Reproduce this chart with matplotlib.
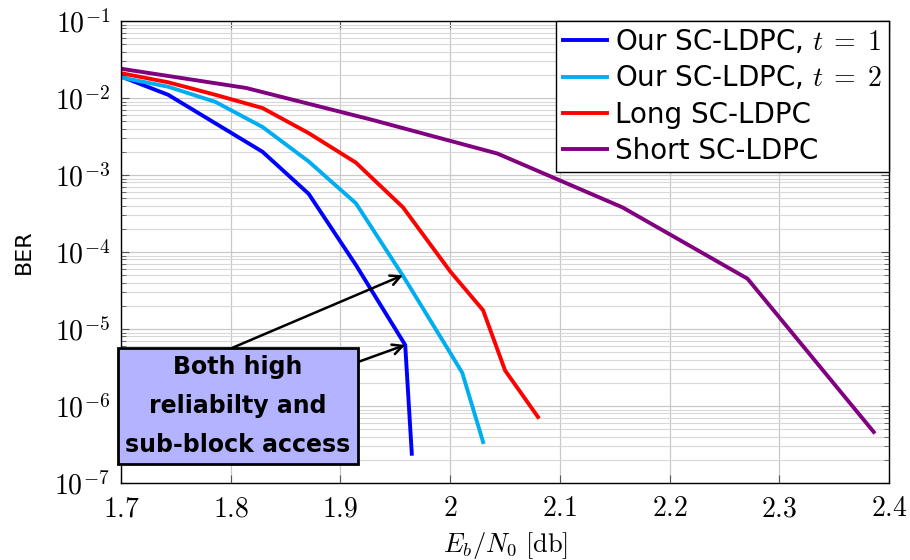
import math
import matplotlib
matplotlib.use("Agg")
import matplotlib.pyplot as plt
from matplotlib.ticker import FixedLocator, FuncFormatter, LogLocator, NullFormatter

plt.rcParams['mathtext.fontset'] = 'cm'
plt.rcParams['font.family'] = ['DejaVu Sans']

# BER curves
x_t1 = [1.700, 1.743, 1.829, 1.871, 1.914, 1.959, 1.965]
ber_t1 = [1.9e-2, 1.1e-2, 2.0e-3, 5.7e-4, 6.8e-5, 6.2e-6, 2.4e-7]

x_t2 = [1.700, 1.743, 1.786, 1.829, 1.871, 1.914, 1.957, 2.000, 2.011, 2.030]
ber_t2 = [1.85e-2, 1.4e-2, 8.9e-3, 4.2e-3, 1.5e-3, 4.3e-4, 4.9e-5, 4.9e-6, 2.7e-6, 3.4e-7]

x_long = [1.700, 1.743, 1.786, 1.829, 1.871, 1.914, 1.957, 2.000, 2.030, 2.050, 2.080]
ber_long = [2.1e-2, 1.6e-2, 1.1e-2, 7.4e-3, 3.5e-3, 1.45e-3, 3.8e-4, 5.6e-5, 1.75e-5, 2.9e-6, 7.2e-7]

x_short = [1.700, 1.814, 1.929, 2.043, 2.157, 2.271, 2.386]
ber_short = [2.4e-2, 1.35e-2, 5.2e-3, 1.9e-3, 3.8e-4, 4.5e-5, 4.6e-7]

labels = [r'Our SC-LDPC, $t\;=\;1$', r'Our SC-LDPC, $t\;=\;2$', 'Long SC-LDPC', 'Short SC-LDPC']
colors = ['#0000FF', '#00AEEF', '#FF0000', '#800080']

x_ticks = [1.7, 1.8, 1.9, 2.0, 2.1, 2.2, 2.3, 2.4]
y_exps = [-1, -2, -3, -4, -5, -6, -7]

fig = plt.figure(figsize=(9.1, 5.6), dpi=100)
ax = fig.add_axes([0.133, 0.1375, 0.844, 0.825])

for xs, ys, lab, col in zip([x_t1, x_t2, x_long, x_short],
                            [ber_t1, ber_t2, ber_long, ber_short], labels, colors):
    ax.plot(xs, ys, color=col, linewidth=2.8, label=lab, solid_joinstyle='miter')

ax.set_yscale('log')
ax.set_xlim(1.7, 2.4)
ax.set_ylim(1e-7, 1e-1)

ax.xaxis.set_major_locator(FixedLocator(x_ticks))
ax.xaxis.set_major_formatter(FuncFormatter(lambda v, p: r'$%.1f$' % v if abs(v - 2.0) > 1e-6 else r'$2$'))
ax.yaxis.set_major_locator(FixedLocator([10.0 ** e for e in y_exps]))
ax.yaxis.set_major_formatter(FuncFormatter(lambda v, p: r'$10^{%d}$' % round(math.log10(v))))
ax.yaxis.set_minor_locator(LogLocator(base=10, subs=range(2, 10), numticks=20))
ax.yaxis.set_minor_formatter(NullFormatter())

ax.tick_params(axis='both', which='both', direction='in', top=True, right=True,
               labelsize=20, color='#555555')
ax.tick_params(which='major', length=6, width=0.8, pad=8)
ax.tick_params(which='minor', length=3.5, width=0.6)

ax.grid(True, which='major', color='#c8c8c8', linewidth=0.9)
ax.grid(True, which='minor', axis='y', color='#d8d8d8', linewidth=0.8)
ax.set_axisbelow(True)
for s in ax.spines.values():
    s.set_linewidth(1.0)

ax.set_xlabel(r'$E_b/N_0\ [\mathrm{db}]$', fontsize=19, labelpad=6)
ax.set_ylabel('BER', fontsize=16, labelpad=15)

leg = ax.legend(loc='upper right', fontsize=20, fancybox=False, framealpha=1,
                edgecolor='black', borderpad=0.25, labelspacing=0.3,
                handlelength=1.6, handletextpad=0.3, borderaxespad=0.0)
leg.get_frame().set_linewidth(1.0)

# annotation box with two arrows
note = 'Both high\nreliabilty and\nsub-block access'
ax.text(1.8067, 1.0e-6, note, fontsize=17, fontweight='bold', ha='center', va='center',
        multialignment='center', linespacing=1.8, zorder=6,
        bbox=dict(boxstyle='square,pad=0.3', fc='#B3B3FF', ec='black', lw=2))
arrow = dict(arrowstyle='->', color='black', lw=1.8, mutation_scale=18, shrinkA=0, shrinkB=0)
ax.annotate('', xy=(1.957, 5.0e-5), xytext=(1.801, 5.66e-6), arrowprops=arrow, zorder=5)
ax.annotate('', xy=(1.959, 6.2e-6), xytext=(1.913, 3.6e-6), arrowprops=arrow, zorder=5)

fig.savefig('out.png', dpi=100)
